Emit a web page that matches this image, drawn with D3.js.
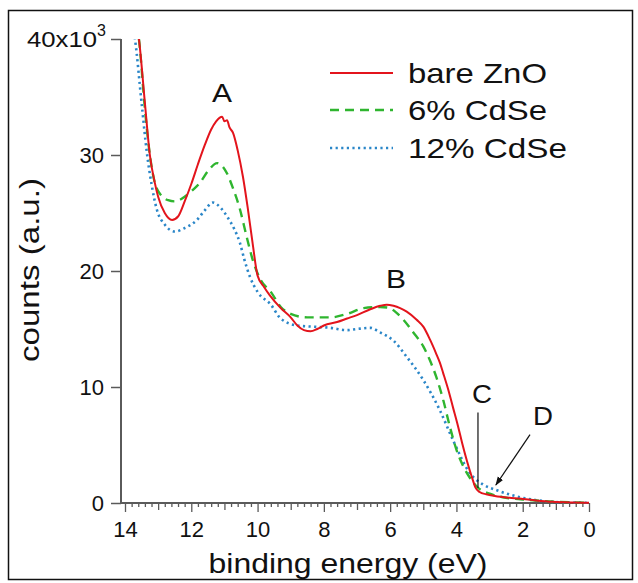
<!DOCTYPE html>
<html><head><meta charset="utf-8">
<script src="https://cdn.jsdelivr.net/npm/d3@7"></script>
<style>
body{margin:0;background:#fff}
svg{display:block}
text{font-family:"Liberation Sans",Arial,Helvetica,sans-serif;fill:#111}
</style>
</head><body>
<svg id="c" width="638" height="583"></svg>
<script>
// ---------- data ----------
const seriesNames = ["bare ZnO", "6% CdSe", "12% CdSe"];

const energyZnO = [13.8,13.58,13.4,13.25,13.1,13.0,12.8,12.58,12.4,12.2,12.0,11.8,11.6,11.4,11.25,11.15,11.07,11.0,10.92,10.85,10.74,10.6,10.44,10.3,10.15,10.0,9.8,9.63,9.3,9.0,8.8,8.6,8.4,8.2,8.0,7.6,7.3,7.0,6.6,6.3,6.1,5.9,5.7,5.5,5.2,5.0,4.8,4.6,4.5,4.4,4.25,4.1,3.95,3.83,3.68,3.53,3.42,3.3,3.1,2.84,2.4,2.1,1.6,1.1,0.5,0];
const countsZnO = [42.5,40,34.5,30,27.6,26.4,25.0,24.4,24.7,26.0,27.5,29.2,30.8,32.2,32.9,33.2,33.3,32.9,33.0,32.4,31.9,30.4,28.1,25.5,22.4,19.6,18.6,17.9,16.8,16.0,15.3,14.9,14.8,15.0,15.3,15.6,15.9,16.2,16.7,17.0,17.1,17.0,16.8,16.5,15.8,15.2,14.1,12.8,12.1,11.2,9.8,8.2,6.6,5.2,3.6,2.2,1.3,0.95,0.75,0.6,0.45,0.38,0.22,0.1,0.04,0.02];

const energyCdSe6 = [13.8,13.58,13.4,13.25,13.1,12.9,12.7,12.5,12.2,11.95,11.74,11.5,11.22,11.05,10.92,10.75,10.53,10.35,10.14,9.9,9.6,9.3,9.0,8.5,7.8,7.3,6.8,6.3,6.0,5.85,5.6,5.3,5.0,4.8,4.6,4.4,4.2,4.0,3.8,3.6,3.38,3.0,2.6,1.8,0.9,0];
const countsCdSe6 = [42.5,40,34.0,30,27.6,26.5,26.1,26.0,26.4,27.0,27.6,28.6,29.3,29.0,28.4,27.2,25.3,23.2,20.9,19.2,18.2,16.9,16.3,16.0,16.0,16.3,16.8,16.9,16.8,16.5,15.8,14.7,13.5,12.3,10.8,8.9,6.6,4.6,3.2,2.2,1.4,0.8,0.5,0.26,0.1,0.02];

const energyCdSe12 = [13.9,13.7,13.5,13.34,13.2,13.04,12.8,12.5,12.2,11.83,11.6,11.35,11.1,10.92,10.7,10.53,10.4,10.23,10.0,9.6,9.3,8.8,8.33,7.8,7.3,7.0,6.6,6.3,5.9,5.5,5.0,4.5,4.1,3.6,3.2,2.78,2.08,1.1,0.5,0];
const countsCdSe12 = [42.5,40,34.5,30.2,27.5,25.3,24.0,23.4,23.7,24.4,25.2,25.9,25.4,24.7,23.6,22.4,21.0,19.5,18.2,17.1,15.9,15.3,15.2,15.1,14.9,15.0,15.1,14.7,14.0,12.6,10.6,8.0,5.4,2.6,1.6,1.1,0.5,0.1,0.04,0.02];

const xTickValues = [14, 12, 10, 8, 6, 4, 2, 0];
const yTickValues = [0, 10, 20, 30];
const yTopTick = 40;
const yTopLabelBase = "40x10";
const yTopLabelExp = "3";
const xAxisTitle = "binding energy (eV)";
const yAxisTitle = "counts (a.u.)";
const peakLabels = ["A", "B", "C", "D"];
const peakEnergy = [11.07, 5.82, 3.23, 1.39];
const peakCounts = [34.6, 18.5, 8.6, 6.7];

// ---------- drawing ----------
const svg = d3.select("#c");
const x = d3.scaleLinear().domain([14, 0]).range([125, 589]);
const y = d3.scaleLinear().domain([0, 40]).range([503, 39]);
const axisColor = "#5a5a5a";

// outer frame
svg.append("rect").attr("x", 8.5).attr("y", 10.5).attr("width", 624).attr("height", 569)
  .attr("fill", "none").attr("stroke", "#111").attr("stroke-width", 1.5);

function txt(g, px, py, s, size, anchor, width) {
  const t = g.append("text").attr("x", px).attr("y", py).attr("font-size", size)
    .attr("text-anchor", anchor || "start").text(s);
  if (width) t.attr("textLength", width).attr("lengthAdjust", "spacingAndGlyphs");
  return t;
}

// clip
svg.append("defs").append("clipPath").attr("id", "plot")
  .append("rect").attr("x", 121).attr("y", 39).attr("width", 470).attr("height", 466);
const marker = svg.select("defs").append("marker").attr("id", "arr")
  .attr("viewBox", "0 0 10 10").attr("refX", 9).attr("refY", 5)
  .attr("markerWidth", 9).attr("markerHeight", 9).attr("orient", "auto")
  .attr("markerUnits", "userSpaceOnUse");
marker.append("path").attr("d", "M0,1.5 L10,5 L0,8.5 Z").attr("fill", "#111");

// x axis: minor, medium, major ticks
const minorVals = d3.range(0, 70 + 1).map(i => i * 0.2).filter(v => Math.abs(v - Math.round(v)) > 1e-6);
const mediumVals = [13, 11, 9, 7, 5, 3, 1];
const gx = svg.append("g").attr("transform", "translate(0,503)");
gx.call(d3.axisBottom(x).tickValues(minorVals).tickSize(4).tickFormat(""));
const gx2 = svg.append("g").attr("transform", "translate(0,503)");
gx2.call(d3.axisBottom(x).tickValues(mediumVals).tickSize(7).tickFormat(""));
const gx3 = svg.append("g").attr("transform", "translate(0,503)");
gx3.call(d3.axisBottom(x).tickValues(xTickValues).tickSize(9).tickPadding(9).tickFormat(d3.format("d")));
[gx, gx2, gx3].forEach(g => {
  g.select(".domain").remove();
  g.selectAll(".tick line").attr("stroke", axisColor).attr("stroke-width", 1.3);
});
gx3.selectAll(".tick text").attr("font-size", 22).attr("fill", "#111")
  .attr("font-family", "Liberation Sans, Arial, sans-serif").attr("dy", "0.71em");

// y axis
const gy = svg.append("g").attr("transform", "translate(121,0)");
gy.call(d3.axisLeft(y).tickValues(yTickValues.concat([yTopTick])).tickSize(10).tickPadding(7)
  .tickFormat(d => d === yTopTick ? "" : d3.format("d")(d)));
gy.select(".domain").remove();
gy.selectAll(".tick line").attr("stroke", axisColor).attr("stroke-width", 1.5);
gy.selectAll(".tick text").attr("font-size", 22).attr("fill", "#111")
  .attr("font-family", "Liberation Sans, Arial, sans-serif").attr("dy", "0.36em");

// axis lines
svg.append("line").attr("x1", 121).attr("x2", 121).attr("y1", y(40)).attr("y2", y(0))
  .attr("stroke", axisColor).attr("stroke-width", 2);
svg.append("line").attr("x1", 121).attr("x2", x(0)).attr("y1", y(0)).attr("y2", y(0))
  .attr("stroke", axisColor).attr("stroke-width", 2);

// top label 40x10^3
txt(svg, 27, y(yTopTick) + 8, yTopLabelBase, 22, "start", 70);
txt(svg, 97, y(yTopTick) - 3, yTopLabelExp, 16, "start");

// axis titles
txt(svg, 348, 573, xAxisTitle, 27, "middle", 279);
txt(svg, 0, 0, yAxisTitle, 27, "middle", 184).attr("x", null).attr("y", null)
  .attr("transform", "translate(39,270) rotate(-90)");

// curves
const line = d3.line().x(d => x(d[0])).y(d => y(d[1])).curve(d3.curveMonotoneX);
const zip = (a, b) => a.map((v, i) => [v, b[i]]);
const curves = [
  {data: zip(energyCdSe12, countsCdSe12), color: "#2a86c8", width: 2.6, dash: "2.2,3.4"},
  {data: zip(energyCdSe6, countsCdSe6), color: "#2fb52f", width: 2.4, dash: "9,6"},
  {data: zip(energyZnO, countsZnO), color: "#e3141c", width: 2, dash: null}
];
const gp = svg.append("g").attr("clip-path", "url(#plot)");
curves.forEach(c => {
  gp.append("path").attr("d", line(c.data)).attr("fill", "none")
    .attr("stroke", c.color).attr("stroke-width", c.width)
    .attr("stroke-dasharray", c.dash).attr("stroke-linejoin", "round");
});

// legend
const legendStyles = [curves[2], curves[1], curves[0]];
const legendRowY = [73, 110, 148];
const legendWidths = [139, 139, 159];
seriesNames.forEach((name, i) => {
  const c = legendStyles[i];
  svg.append("line").attr("x1", 330).attr("x2", 393).attr("y1", legendRowY[i]).attr("y2", legendRowY[i])
    .attr("stroke", c.color).attr("stroke-width", c.width).attr("stroke-dasharray", c.dash);
  txt(svg, 408, legendRowY[i] + 10, name, 28, "start", legendWidths[i]);
});

// annotations
peakLabels.forEach((l, i) => {
  txt(svg, x(peakEnergy[i]), y(peakCounts[i]), l, 26, "middle", 20);
});
svg.append("line").attr("x1", x(3.35)).attr("x2", x(3.35)).attr("y1", y(7.8)).attr("y2", y(1.3))
  .attr("stroke", "#111").attr("stroke-width", 1.2);
svg.append("line").attr("x1", x(1.78)).attr("y1", y(5.9)).attr("x2", x(2.81)).attr("y2", y(1.55))
  .attr("stroke", "#111").attr("stroke-width", 1.2).attr("marker-end", "url(#arr)");
</script>
</body></html>
